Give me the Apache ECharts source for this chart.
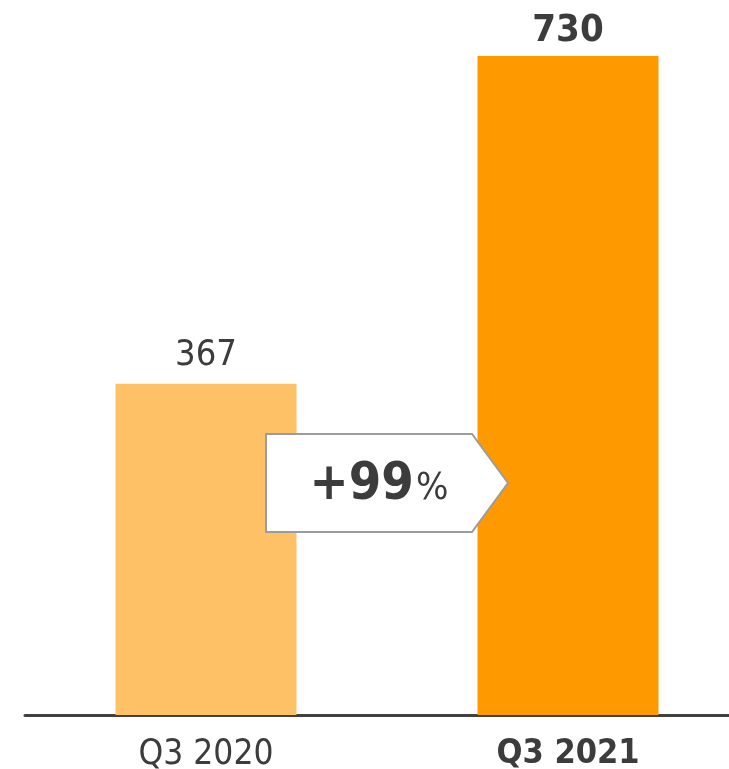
<!DOCTYPE html>
<html>
<head>
<meta charset="utf-8">
<script src="https://cdn.jsdelivr.net/npm/echarts@6/dist/echarts.min.js"></script>
<style>
  html, body { margin: 0; padding: 0; background: #ffffff; }
  #chart { width: 729px; height: 769px; }
</style>
</head>
<body>
<div id="chart"></div>
<script>
// Quarterly values
const categories = ['Q3 2020', 'Q3 2021'];
const values = [367, 730];
const barColors = ['#FEC166', '#FF9900'];

const FONT = '"Liberation Sans Narrow", "DejaVu Sans Condensed", "Roboto", sans-serif';
const TEXT = '#3c3c3c';

const growth = Math.round((values[1] / values[0] - 1) * 100);

const chart = echarts.init(document.getElementById('chart'), null, { renderer: 'canvas' });

chart.setOption({
  animation: false,
  grid: { left: 25, right: -20, top: 56, bottom: 54, outerBoundsMode: 'none', containLabel: false },
  xAxis: {
    type: 'category',
    data: categories,
    axisLine: { show: true, lineStyle: { color: '#404040', width: 3 } },
    axisTick: { show: false },
    axisLabel: {
      margin: 22,
      fontFamily: FONT,
      fontSize: 35,
      color: TEXT,
      formatter: function (v, i) {
        return i === categories.length - 1 ? '{b|' + v + '}' : '{r|' + v + '}';
      },
      rich: {
        r: { fontFamily: FONT, fontSize: 35, color: TEXT },
        b: { fontFamily: FONT, fontSize: 34, fontWeight: 'bold', color: TEXT }
      }
    }
  },
  yAxis: {
    type: 'value',
    min: 0,
    max: function (e) { return e.max; },
    show: false,
    splitLine: { show: false }
  },
  series: [{
    type: 'bar',
    barWidth: '50%',
    data: values.map(function (v, i) {
      const last = i === values.length - 1;
      return {
        value: v,
        itemStyle: { color: barColors[i] },
        label: {
          show: true,
          position: 'top',
          distance: last ? 6 : 10,
          fontFamily: FONT,
          fontSize: last ? 38 : 36,
          fontWeight: last ? 'bold' : 'normal',
          color: TEXT
        }
      };
    })
  }]
});

// Growth callout: an arrow-shaped box centred between the two bars
function drawCallout() {
  const p0 = chart.convertToPixel({ seriesIndex: 0 }, [0, 0]);
  const p1 = chart.convertToPixel({ seriesIndex: 0 }, [1, 0]);
  const cx = (p0[0] + p1[0]) / 2;
  const cy = 483;
  const halfW = 121, halfH = 49, tip = 36;
  const left = cx - halfW, right = cx + halfW;
  chart.setOption({
    graphic: [{
      type: 'group',
      children: [{
        type: 'polygon',
        shape: {
          points: [
            [left, cy - halfH],
            [right - tip, cy - halfH],
            [right, cy],
            [right - tip, cy + halfH],
            [left, cy + halfH]
          ]
        },
        style: { fill: '#ffffff', stroke: '#9c9c9c', lineWidth: 2 },
        z: 10
      }, {
        type: 'text',
        x: cx - 8,
        y: cy + 2,
        style: {
          text: '{a|+' + growth + '}{p|%}',
          align: 'center',
          verticalAlign: 'middle',
          rich: {
            a: { fontFamily: FONT, fontSize: 52, fontWeight: 'bold', fill: TEXT, verticalAlign: 'bottom' },
            p: { fontFamily: FONT, fontSize: 38, fill: TEXT, verticalAlign: 'bottom', padding: [0, 0, 3, 2] }
          }
        },
        z: 11
      }]
    }]
  });
}
drawCallout();
</script>
</body>
</html>
